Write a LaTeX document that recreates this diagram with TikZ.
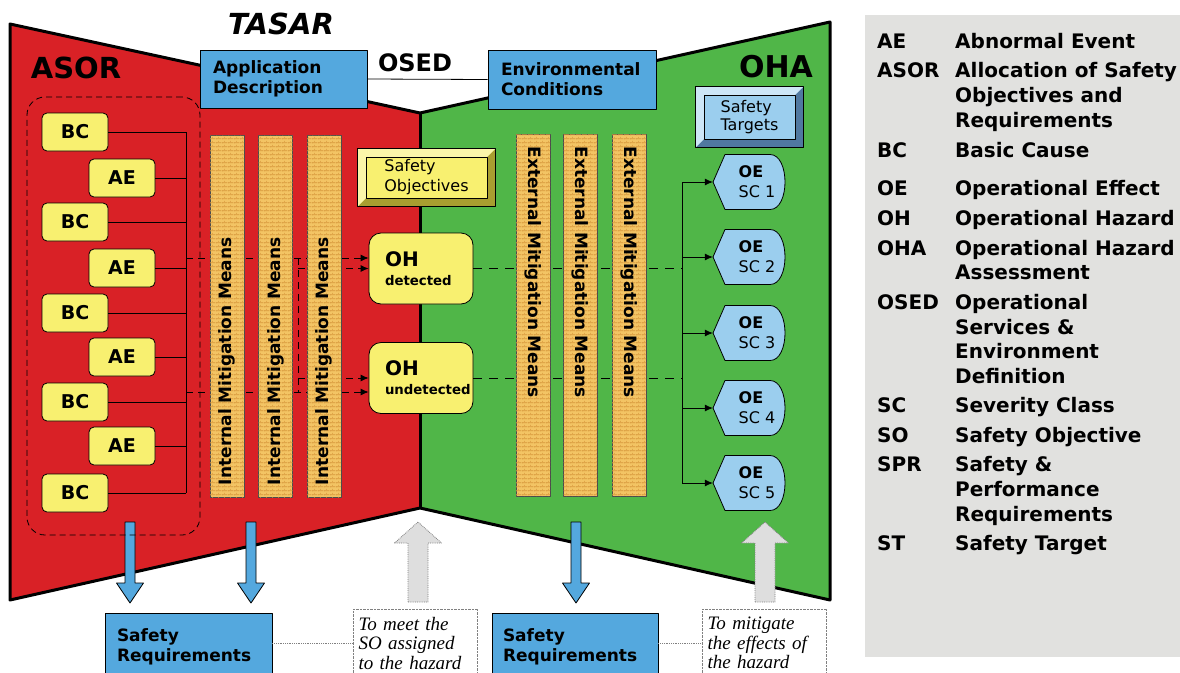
\documentclass[tikz,border=0pt]{standalone}
\usepackage{fontspec}
\setmainfont{DejaVu Sans}
\newfontfamily\notefont{Liberation Serif}
\usetikzlibrary{patterns,arrows.meta,positioning}

\definecolor{asorred}{RGB}{217,33,38}
\definecolor{ohagreen}{RGB}{80,182,72}
\definecolor{boxblue}{RGB}{84,168,222}
\definecolor{paleblue}{RGB}{155,206,238}
\definecolor{boxyellow}{RGB}{248,240,112}
\definecolor{mitorange}{RGB}{243,196,100}
\definecolor{brickline}{RGB}{214,150,60}
\definecolor{legendgrey}{RGB}{225,225,223}
\definecolor{arrowgrey}{RGB}{222,222,222}
\definecolor{sobjlight}{RGB}{251,246,170}
\definecolor{sobjdark}{RGB}{168,158,48}
\definecolor{stlight}{RGB}{205,230,247}
\definecolor{stdark}{RGB}{80,120,160}

\pgfdeclarepatternformonly{finebricks}{\pgfpointorigin}{\pgfpoint{6pt}{4pt}}{\pgfpoint{6pt}{4pt}}{%
  \pgfsetlinewidth{0.45pt}
  \pgfpathmoveto{\pgfpoint{0pt}{0pt}}\pgfpathlineto{\pgfpoint{6pt}{0pt}}
  \pgfpathmoveto{\pgfpoint{0pt}{2pt}}\pgfpathlineto{\pgfpoint{6pt}{2pt}}
  \pgfpathmoveto{\pgfpoint{0pt}{0pt}}\pgfpathlineto{\pgfpoint{0pt}{2pt}}
  \pgfpathmoveto{\pgfpoint{3pt}{2pt}}\pgfpathlineto{\pgfpoint{3pt}{4pt}}
  \pgfusepath{stroke}}

\newcommand{\bevelframe}[4]{%
  \fill[#3] (#1.north west) rectangle (#1.south east);
  \fill[#2] (#1.south west) -- (#1.north west) -- (#1.north east) -- ([shift={(-8pt,-8pt)}]#1.north east) -- ([shift={(8pt,-8pt)}]#1.north west) -- ([shift={(8pt,8pt)}]#1.south west) -- cycle;
  \draw[fill=#4] ([shift={(8pt,-8pt)}]#1.north west) rectangle ([shift={(-8pt,8pt)}]#1.south east);
  \draw[thick] (#1.north west) rectangle (#1.south east);}

\begin{document}
\begin{tikzpicture}
  [x=1pt, y=-1pt, line join=round,
   title/.style={font=\fontsize{29}{32}\selectfont\bfseries},
   cause/.style={rectangle, draw=black, thick, fill=boxyellow, rounded corners=5pt, minimum width=66pt, minimum height=38pt, font=\fontsize{19}{22}\selectfont\bfseries},
   infobox/.style={rectangle, draw=black, thick, fill=boxblue, align=left, inner xsep=13pt, font=\fontsize{17}{20}\selectfont\bfseries},
   hazard/.style={rectangle, draw=black, thick, fill=boxyellow, rounded corners=12pt, minimum width=104pt, minimum height=71pt, text width=72pt, inner xsep=16pt, align=left, font=\fontsize{13.3}{19}\selectfont\bfseries},
   mitcol/.style={rectangle, draw=black!70, fill=mitorange, postaction={pattern=finebricks, pattern color=brickline}, minimum width=362pt, minimum height=34pt, inner xsep=12pt, text width=338pt, align=left, font=\fontsize{17}{18}\selectfont\bfseries},
   oetext/.style={minimum width=88pt, minimum height=55pt, inner sep=0pt, align=left, font=\fontsize{16}{20}\selectfont},
   notebox/.style={rectangle, draw=gray, densely dotted, fill=white, minimum width=124pt, minimum height=68pt, text width=114pt, inner xsep=5pt, align=left, font=\notefont\itshape\fontsize{19}{19.5}\selectfont},
   flow/.style={thick, dash pattern=on 7pt off 5pt, -{Latex[length=8pt,width=7pt]}},
   legtext/.style={anchor=base west, inner sep=0pt, font=\fontsize{20}{24}\selectfont\bfseries}]
  \useasboundingbox (0,0) rectangle (1180,672);
  \clip (0,0) rectangle (1180,672);
  \fill[white] (0,0) rectangle (1180,672);

  % ASOR and OHA panels
  \fill[asorred] (10,24) -- (420,113) -- (420,508) -- (10,600) -- cycle;
  \fill[ohagreen] (420,113) -- (830,22) -- (830,600) -- (420,508) -- cycle;
  \draw[line width=3pt] (10,24) -- (420,113) -- (830,22) -- (830,600) -- (420,508) -- (10,600) -- cycle;
  \draw[line width=3pt] (420,113) -- (420,508);

  \fill[legendgrey] (865,15) rectangle (1180,657);

  \node[title, font=\fontsize{29}{32}\selectfont\bfseries\itshape] (tasar) at (281,24) {TASAR};
  \node[title] (asor) at (76,68) {ASOR};
  \node[title, font=\fontsize{30}{32}\selectfont\bfseries] (oha) at (776,67) {OHA};
  \node[title, font=\fontsize{24}{26}\selectfont\bfseries] (osed) at (415,63) {OSED};

  \node[infobox, minimum width=167pt, minimum height=58pt, text width=141pt] (appdesc) at (283.5,79) {Application\\Description};
  \node[infobox, minimum width=168pt, minimum height=59pt, text width=142pt] (envcond) at (572,79.5) {Environmental\\Conditions};
  \draw[thick] (appdesc.east) -- (envcond.west);

  % causes
  \foreach \i/\yy in {1/132, 2/222, 3/313, 4/402, 5/493}
    \node[cause] (bc\i) at (75,\yy) {BC};
  \foreach \i/\yy in {1/178, 2/268, 3/357, 4/446}
    \node[cause] (ae\i) at (122,\yy) {AE};
  \coordinate (bus) at (186,132);
  \foreach \n in {bc1, bc2, bc3, bc4, bc5, ae1, ae2, ae3, ae4}
    \draw[thick] (\n.east) -- (\n.east -| bus);
  \draw[thick] (bus) -- (bus |- bc5.east);

  \node[hazard] (oh1) at (421,268.5) {{\fontsize{20}{19}\selectfont OH}\\detected};
  \node[hazard] (oh2) at (421,378) {{\fontsize{20}{19}\selectfont OH}\\undetected};

  \coordinate (detin) at (186,258);
  \coordinate (undetin) at (186,392);
  \coordinate (cross) at (298,258);
  \coordinate (oebus) at (682,182);
  \draw[flow] (detin) -- (detin -| oh1.west);
  \draw[flow] (undetin) -- (undetin -| oh2.west);
  \draw[thick, dash pattern=on 7pt off 5pt] (cross) -- (cross |- undetin);
  \draw[flow] (cross |- oh1.west) -- (oh1.west);
  \draw[flow] (cross |- oh2.west) -- (oh2.west);
  \draw[thick, dash pattern=on 9pt off 7pt] (oh1.east) -- (oh1.east -| oebus);
  \draw[thick, dash pattern=on 9pt off 7pt] (oh2.east) -- (oh2.east -| oebus);

  % mitigation means
  \foreach \i/\xx in {1/227, 2/275.5, 3/324}
    \node[mitcol, rotate=90] (im\i) at (\xx,316) {Internal Mitigation Means};
  \foreach \i/\xx in {1/533, 2/580, 3/629}
    \node[mitcol, rotate=-90] (em\i) at (\xx,315.5) {External Mitigation Means};

  \node[minimum width=137pt, minimum height=57pt, inner sep=0pt] (sobj) at (426.5,177.5) {};
  \bevelframe{sobj}{sobjlight}{sobjdark}{boxyellow}
  \node[align=left, font=\fontsize{16}{20}\selectfont] (sobjtext) at (sobj) {Safety\\Objectives};
  \node[minimum width=107pt, minimum height=60pt, inner sep=0pt] (starg) at (749.5,117) {};
  \bevelframe{starg}{stlight}{stdark}{paleblue}
  \node[align=left, font=\fontsize{16}{18}\selectfont] (stargtext) at (starg) {Safety\\Targets};

  % operational effects
  \foreach \i/\yy in {1/182, 2/257, 3/333, 4/408, 5/483} {
    \draw[thick, fill=paleblue, shift={(750,\yy)}] (-37,0) -- (-25,-27.5) -- (20,-27.5) .. controls (40,-27.5) and (40,27.5) .. (20,27.5) -- (-25,27.5) -- cycle;
    \node[oetext] (oe\i) at (757,\yy) {\textbf{OE}\\SC \i};
    \draw[thick, -{Latex[length=8pt,width=7pt]}] (oe\i.west -| oebus) -- (oe\i.west);
  }
  \draw[thick] (oebus) -- (oebus |- oe5.west);

  % requirement flows
  \foreach \xx in {130, 251, 576}
    \draw[thick, fill=boxblue, shift={(\xx,0)}] (-5,522) -- (5,522) -- (5,583) -- (13.5,583) -- (0,603) -- (-13.5,583) -- (-5,583) -- cycle;
  \foreach \xx in {418, 765}
    \draw[gray, densely dotted, thick, fill=arrowgrey, shift={(\xx,0)}] (-10,602) -- (10,602) -- (10,543) -- (23.5,543) -- (0,522) -- (-23.5,543) -- (-10,543) -- cycle;

  \node[draw, thick, dash pattern=on 6pt off 4pt, rounded corners=18pt, minimum width=173pt, minimum height=438pt] (causegrp) at (113.5,316) {};

  \node[infobox, minimum width=167pt, minimum height=68pt, text width=143pt, inner xsep=12pt] (sreq1) at (188.5,647) {Safety\\Requirements};
  \node[infobox, minimum width=166pt, minimum height=68pt, text width=144pt, inner xsep=11pt] (sreq2) at (575,647) {Safety\\Requirements};
  \node[notebox, right=81pt of sreq1, yshift=4pt] (tbmeet) {To meet the\\SO assigned\\to the hazard};
  \node[notebox, right=44pt of sreq2, yshift=4pt] (tbmitig) {To mitigate\\the effects of\\the hazard};
  \draw[gray, densely dotted, thick] (sreq1.east |- tbmeet.west) -- (tbmeet.west);
  \draw[gray, densely dotted, thick] (sreq2.east |- tbmitig.west) -- (tbmitig.west);

  % legend
  \foreach \ab/\yy [count=\k] in {AE/41, ASOR/70, BC/150, OE/188, OH/218, OHA/248, OSED/302, SC/405, SO/435, SPR/464, ST/543}
    \node[legtext] (abbr\k) at (877,\yy+7) {\ab};
  \foreach \df/\yy [count=\k] in {Abnormal Event/41, Allocation of Safety/70, Objectives and/95, Requirements/120, Basic Cause/150, Operational Effect/188, Operational Hazard/218, Operational Hazard/248, Assessment/272, Operational/302, Services \&/327, Environment/351, Definition/376, Severity Class/405, Safety Objective/435, Safety \&/464, Performance/489, Requirements/514, Safety Target/543}
    \node[legtext] (def\k) at (955,\yy+7) {\df};
\end{tikzpicture}
\end{document}
